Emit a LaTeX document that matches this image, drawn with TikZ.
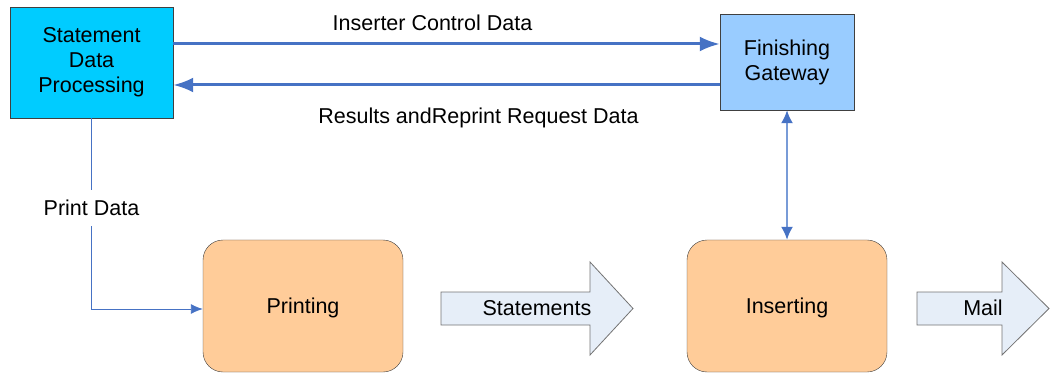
\documentclass[tikz,border=0pt]{standalone}
\usepackage{fontspec}
\setmainfont{Liberation Sans}
\usetikzlibrary{arrows.meta, positioning}

\definecolor{sdpcyan}{RGB}{0,204,255}
\definecolor{gatewayblue}{RGB}{153,204,255}
\definecolor{taskorange}{RGB}{255,204,153}
\definecolor{flowblue}{RGB}{70,114,196}
\definecolor{linkblue}{RGB}{120,155,215}
\definecolor{bigarrowfill}{RGB}{230,238,248}

\begin{document}
\begin{tikzpicture}[
			x=1pt, y=-1pt,
			font=\fontsize{21.5}{25}\selectfont,
			process/.style={draw=black!75, rectangle, align=center},
			task/.style={draw=black!75, rectangle, rounded corners=20pt, fill=taskorange, minimum width=200pt, minimum height=132pt, text depth=0pt},
			flow/.style={draw=flowblue, line width=3pt, -{Latex[length=20pt, width=15pt]}},
			feed/.style={draw=flowblue, line width=0.9pt, -{Latex[length=12pt, width=10pt]}},
			link/.style={draw=linkblue, line width=1.8pt, {Latex[length=13pt, width=12pt, color=flowblue]}-{Latex[length=13pt, width=12pt, color=flowblue]}},
			bigarrow/.style={draw=black!55, fill=bigarrowfill, line width=0.8pt}
			]
			\useasboundingbox (0,0) rectangle (1051,379);
			
			% --- boxes ---
			\node[process, fill=sdpcyan, minimum width=163pt, minimum height=111pt] (sdp) at (91.5,62.5) {Statement\\Data\\Processing};
			\node[process, fill=gatewayblue, minimum width=134pt, minimum height=96pt] (gateway) at (787,62) {Finishing\\Gateway};
			\node[task] (printing) at (303,306) {Printing};
			\node[task] (inserting) at (787,306) {Inserting};
			
			% --- data between processing and gateway ---
			\draw[flow] ([yshift=18.5pt]sdp.east) -- node[above=8pt, xshift=-14pt] {Inserter Control Data} ([yshift=18.5pt]sdp.east -| gateway.west);
			\draw[flow] ([yshift=-23pt]gateway.west) -- node[below=18pt, xshift=32pt] {Results andReprint Request Data} ([yshift=-23pt]gateway.west -| sdp.east);
			
			% --- print data down to the printer ---
			\draw[feed] (sdp.south) |- node[pos=0.235, fill=white, inner ysep=10pt] {Print Data} ([yshift=-3pt]printing.west);
			
			% --- gateway <-> inserter ---
			\draw[link] (gateway.south) -- (inserting.north);
			
			% --- output arrows ---
			\draw[bigarrow] (441,292) -- (590,292) -- (590,262) -- (633,308.5) -- (590,355) -- (590,325) -- (441,325) -- cycle;
			\node (statements) at (537,308) {Statements};
			\draw[bigarrow] (917,292) -- (1002,292) -- (1002,262) -- (1049,308.5) -- (1002,355) -- (1002,325) -- (917,325) -- cycle;
			\node (mail) at (983,308) {Mail};
			
		\end{tikzpicture}
\end{document}
